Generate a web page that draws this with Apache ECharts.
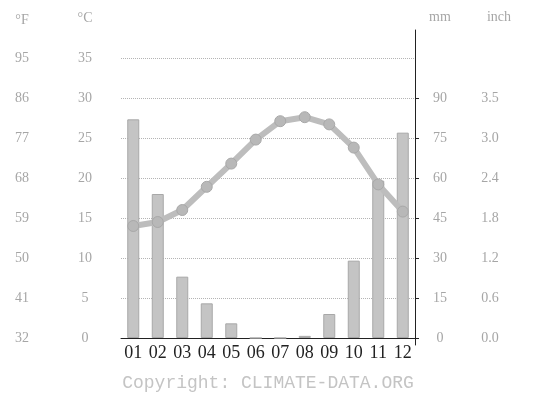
<!DOCTYPE html>
<html>
<head>
<meta charset="utf-8">
<script src="https://cdn.jsdelivr.net/npm/echarts@6/dist/echarts.min.js"></script>
<style>
  html, body { margin: 0; padding: 0; background: #fff; }
  #chart { width: 549px; height: 398px; }
</style>
</head>
<body>
<div id="chart"></div>
<script>
const months = ['01', '02', '03', '04', '05', '06', '07', '08', '09', '10', '11', '12'];
const tempC = [14, 14.5, 16, 18.9, 21.8, 24.8, 27.1, 27.6, 26.7, 23.8, 19.2, 15.8];
const precipMm = [82, 54, 23, 13, 5.5, 0, 0, 0.8, 9, 29, 59, 77];
const fahrenheitLabels = ['32', '41', '50', '59', '68', '77', '86', '95'];
const mmTicks = [0, 15, 30, 45, 60, 75, 90];
const inchLabels = ['0.0', '0.6', '1.2', '1.8', '2.4', '3.0', '3.5'];

const chart = echarts.init(document.getElementById('chart'));

const sideLabel = {
  fontFamily: 'Liberation Serif',
  fontSize: 14,
  color: '#a6a6a6',
  align: 'center'
};
const header = (text, x, y) => ({
  type: 'text',
  x: x,
  y: y,
  style: { text: text, fill: '#a6a6a6', font: '14px "Liberation Serif"', textAlign: 'center', textVerticalAlign: 'middle' }
});

const option = {
  animation: false,
  grid: [
    { left: 121, right: 134, top: 58, bottom: 60 },
    { left: 121, right: 134, top: 30, bottom: 53 }
  ],
  xAxis: [
    {
      type: 'category',
      data: months,
      gridIndex: 0,
      axisLine: { lineStyle: { color: '#222', width: 1 } },
      axisTick: { length: 5, lineStyle: { color: '#222' } },
      axisLabel: { margin: 6, fontFamily: 'Liberation Serif', fontSize: 18, color: '#222', interval: 0 }
    },
    { type: 'category', data: months, gridIndex: 1, show: false }
  ],
  yAxis: [
    {
      type: 'value', gridIndex: 0, position: 'left',
      min: 0, max: 35, interval: 5,
      axisLine: { show: false }, axisTick: { show: false },
      axisLabel: Object.assign({ margin: 36 }, sideLabel),
      splitLine: { lineStyle: { color: '#b4b4b4', type: 'dotted', width: 1 } }
    },
    {
      type: 'value', gridIndex: 0, position: 'left',
      min: 0, max: 35, interval: 5,
      axisLine: { show: false }, axisTick: { show: false }, splitLine: { show: false },
      axisLabel: Object.assign({ margin: 99, formatter: v => fahrenheitLabels[Math.round(v / 5)] }, sideLabel)
    },
    {
      type: 'value', gridIndex: 0, position: 'right',
      min: 0, max: 105, interval: 15,
      axisLine: { show: true, lineStyle: { color: '#222' } },
      axisTick: { show: true, length: 4, customValues: mmTicks, lineStyle: { color: '#222' } },
      axisLabel: Object.assign({ margin: 25, customValues: mmTicks }, sideLabel),
      splitLine: { show: false }
    },
    {
      type: 'value', gridIndex: 0, position: 'right',
      min: 0, max: 105, interval: 15,
      axisLine: { show: false }, axisTick: { show: false }, splitLine: { show: false },
      axisLabel: Object.assign({ margin: 75, customValues: mmTicks,
        formatter: v => inchLabels[mmTicks.indexOf(v)] }, sideLabel)
    },
    {
      type: 'value', gridIndex: 1, position: 'right',
      axisLine: { show: true, lineStyle: { color: '#222' } },
      axisTick: { show: false }, axisLabel: { show: false }, splitLine: { show: false }
    }
  ],
  graphic: [
    header('°F', 22, 20),
    header('°C', 85, 18),
    header('mm', 440, 17),
    header('inch', 499, 17),
    {
      type: 'text', x: 268, y: 383,
      style: { text: 'Copyright: CLIMATE-DATA.ORG', fill: '#c4c4c4', font: '18px "Liberation Mono"', textAlign: 'center', textVerticalAlign: 'middle' }
    }
  ],
  series: [
    {
      name: 'Precipitation',
      type: 'bar',
      xAxisIndex: 0,
      yAxisIndex: 2,
      barWidth: 12,
      data: precipMm,
      itemStyle: { color: '#c4c4c4', borderColor: '#a8a8a8', borderWidth: 1 }
    },
    {
      name: 'Temperature',
      type: 'line',
      xAxisIndex: 0,
      yAxisIndex: 0,
      data: tempC,
      symbol: 'circle',
      symbolSize: 11,
      lineStyle: { color: '#bdbdbd', width: 6 },
      itemStyle: { color: '#b8b8b8', borderColor: '#a8a8a8', borderWidth: 1 }
    }
  ]
};

chart.setOption(option);
</script>
</body>
</html>
